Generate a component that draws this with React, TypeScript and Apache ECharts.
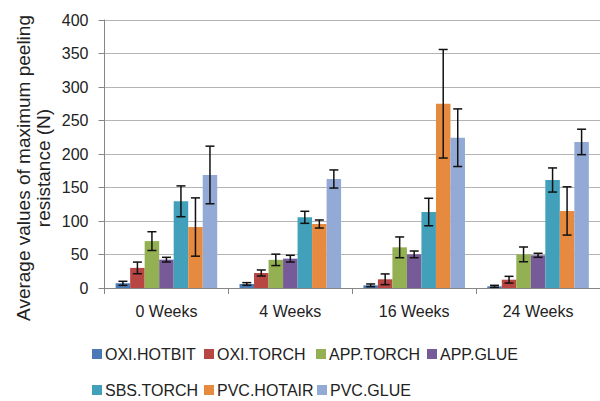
import React, { useEffect, useRef } from "react";
import * as echarts from "echarts";

const categories = ["0 Weeks", "4 Weeks", "16 Weeks", "24 Weeks"];
const seriesNames = [
  "OXI.HOTBIT",
  "OXI.TORCH",
  "APP.TORCH",
  "APP.GLUE",
  "SBS.TORCH",
  "PVC.HOTAIR",
  "PVC.GLUE",
];
const colors = ["#4a7ab5", "#b84744", "#93b153", "#775b98", "#42a0ba", "#e58a3e", "#93aad6"];

// mean values per series, by category
const oxiHotbit = [7, 6, 4, 2.5];
const oxiTorch = [30, 22.4, 13, 12.4];
const appTorch = [70, 42, 60.7, 50.2];
const appGlue = [42.3, 43.8, 50.2, 48.8];
const sbsTorch = [129.4, 105.5, 113.4, 161.2];
const pvcHotair = [91, 95.5, 275, 115];
const pvcGlue = [168.7, 162.7, 224.3, 218];

// error half-widths per series, by category
const errOxiHotbit = [3, 2, 2, 1.5];
const errOxiTorch = [8.7, 4.5, 8, 5];
const errAppTorch = [14, 8.5, 15.5, 11];
const errAppGlue = [3.5, 5, 5, 3];
const errSbsTorch = [23, 9, 20.5, 18];
const errPvcHotair = [43.5, 6, 81, 36];
const errPvcGlue = [43, 13.5, 43, 19];

const yTicks = [0, 50, 100, 150, 200, 250, 300, 350, 400];
const yTitleLines = ["Average values of maximum peeling", "resistance (N)"];

const values = [oxiHotbit, oxiTorch, appTorch, appGlue, sbsTorch, pvcHotair, pvcGlue];
const errors = [errOxiHotbit, errOxiTorch, errAppTorch, errAppGlue, errSbsTorch, errPvcHotair, errPvcGlue];

const FONT = "'Liberation Sans', Arial, sans-serif";
const GAP = 0.18;

export default function App() {
  const ref = useRef<HTMLDivElement>(null);
  useEffect(() => {
    if (!ref.current) return;
    const chart = echarts.init(ref.current, null, { renderer: "svg" });

    const errData: number[][] = [];
    values.forEach((vals, s) => {
      vals.forEach((v, c) => {
        const e = errors[s][c];
        errData.push([c, s, v - e, v + e]);
      });
    });

    const legendPos = [
      [92, 346],
      [204, 346],
      [316, 346],
      [427, 346],
      [92, 382],
      [204, 382],
      [317, 382],
    ];

    const titleX = [23, 43];

    const option: any = {
      animation: false,
      backgroundColor: "#ffffff",
      textStyle: { fontFamily: FONT },
      grid: { left: 104.5, top: 20, width: 511, height: 268, containLabel: false },
      legend: seriesNames.map((n, i) => ({
        data: [n],
        left: legendPos[i][0],
        top: legendPos[i][1],
        itemWidth: 10,
        itemHeight: 10,
        icon: "rect",
        selectedMode: false,
        padding: 0,
        textStyle: { fontSize: 16, color: "#222", fontFamily: FONT, padding: [0, 0, 0, -2] },
      })),
      xAxis: {
        type: "category",
        data: categories,
        axisLine: { lineStyle: { color: "#868686", width: 1 } },
        axisTick: { show: true, length: 6, lineStyle: { color: "#868686" } },
        axisLabel: { fontSize: 16, color: "#222", margin: 15, fontFamily: FONT },
      },
      yAxis: {
        type: "value",
        min: 0,
        max: 400,
        interval: 50,
        axisLine: { show: true, lineStyle: { color: "#868686", width: 1 } },
        axisTick: { show: true, length: 6, lineStyle: { color: "#868686" } },
        axisLabel: {
          fontSize: 16,
          color: "#222",
          margin: 16,
          fontFamily: FONT,
          formatter: (v: number) => (yTicks.includes(v) ? String(v) : ""),
        },
        splitLine: { lineStyle: { color: "#b4b4b4", width: 1 } },
      },
      graphic: yTitleLines.map((t, i) => ({
        type: "text",
        x: titleX[i],
        y: 168,
        rotation: Math.PI / 2,
        style: {
          text: t,
          fontSize: 19,
          fontFamily: FONT,
          fill: "#222",
          textAlign: "center",
          textVerticalAlign: "middle",
        },
      })),
      series: [
        ...seriesNames.map((n, i) => ({
          name: n,
          type: "bar",
          data: values[i],
          barGap: "0%",
          barCategoryGap: GAP * 100 + "%",
          itemStyle: { color: colors[i] },
        })),
        {
          name: "errors",
          type: "custom",
          data: errData,
          z: 10,
          renderItem: (params: any, api: any) => {
            const c = api.value(0);
            const s = api.value(1);
            const lo = api.value(2);
            const hi = api.value(3);
            const catW = api.size([1, 0])[0];
            const bw = (catW * (1 - GAP)) / seriesNames.length;
            const center = api.coord([c, 0])[0];
            const x = center + (s - (seriesNames.length - 1) / 2) * bw;
            const yLo = api.coord([c, lo])[1];
            const yHi = api.coord([c, hi])[1];
            const hw = 4.5;
            const style = { stroke: "#111", lineWidth: 1.5 };
            return {
              type: "group",
              children: [
                { type: "line", shape: { x1: x, y1: yLo, x2: x, y2: yHi }, style },
                { type: "line", shape: { x1: x - hw, y1: yLo, x2: x + hw, y2: yLo }, style },
                { type: "line", shape: { x1: x - hw, y1: yHi, x2: x + hw, y2: yHi }, style },
              ],
            };
          },
        },
      ],
    };
    chart.setOption(option);
    return () => chart.dispose();
  }, []);
  return (
    <div
      ref={ref}
      style={{ position: "fixed", left: 0, top: 0, width: 600, height: 401, background: "#fff" }}
    />
  );
}
